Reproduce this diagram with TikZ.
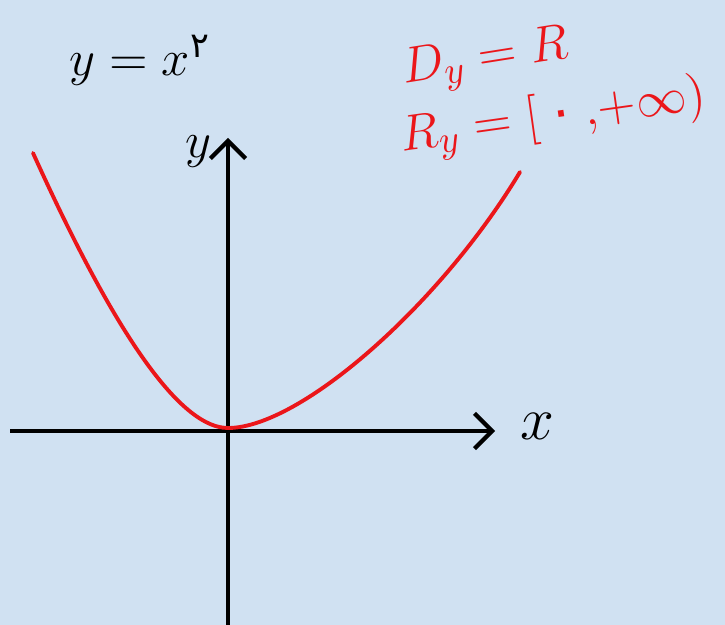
\documentclass[tikz,border=0pt]{standalone}
\usepackage{amsmath, amssymb}
\usepackage{fontspec}
\usepackage{tikz}
\usetikzlibrary{arrows.meta}
\newfontfamily\farsi[Script=Arabic]{DejaVu Sans}
\definecolor{paper}{RGB}{208,225,242}
\definecolor{pen}{RGB}{235,22,26}

\begin{document}
\begin{tikzpicture}[x=0.01cm, y=-0.01cm,
    axis/.style={line width=1.2pt, -{Straight Barb[length=5pt,width=10pt,line width=1.2pt]}},
    curve/.style={pen, line width=1.1pt, line cap=round, line join=round},
    redtext/.style={text=pen, font=\fontsize{15}{18}\selectfont, inner sep=0pt}]
        % Background
        \fill[paper] (0,0) rectangle (725,625);
        \useasboundingbox (0,0) rectangle (725,625);

        % Coordinates
        \coordinate (XL) at (10,431);
        \coordinate (XR) at (495,431);
        \coordinate (YB) at (228,625);
        \coordinate (YT) at (228,138);
        \coordinate (CL) at (33,153);
        \coordinate (CV) at (228,428);
        \coordinate (CR) at (520,172);

        % Labels
        \node[font=\fontsize{15}{18}\selectfont] (title) at (140,60) {$y= x^{\mbox{\farsi\fontsize{10}{12}\selectfont ۲}}$};
        \node[font=\fontsize{15}{18}\selectfont, inner sep=0pt] (ylab) at (198,152) {$y$};
        \node[font=\fontsize{16}{18}\selectfont, inner sep=0pt, anchor=west] (xlab) at (520,426) {$x$};
        \node[redtext, rotate=9, anchor=west] (domain) at (402,74) {$D_y = R$};
        \node[redtext, rotate=8, anchor=west] (range) at (400,140) {$R_y = [$\,{\farsi ۰}$\,,\!+\infty)$};

        % Drawing
        \draw[axis] (XL) -- (XR);
        \draw[axis] (YB) -- (YT);
        \draw[curve] (CL) .. controls (95,290) and (170,428) .. (CV)
            .. controls (300,428) and (440,305) .. (CR);
    \end{tikzpicture}
\end{document}
